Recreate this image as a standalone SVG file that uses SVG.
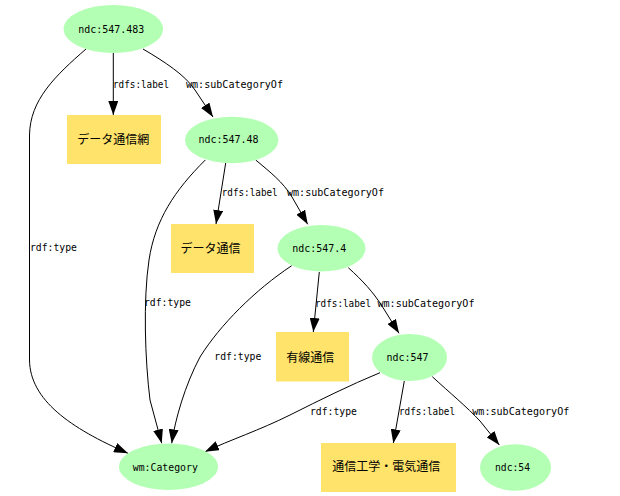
<svg xmlns="http://www.w3.org/2000/svg" width="620" height="496" viewBox="0 0 620 496">
<style>
.res ellipse{fill:#b3ffb3;stroke:none}
.lit rect{fill:#ffe36b;stroke:none}
.t{font-family:"DejaVu Sans Mono","Liberation Mono",monospace;font-size:11px;fill:#000}
.j{font-family:"Noto Sans CJK JP","Noto Sans",sans-serif;font-size:12px;fill:#000;text-anchor:middle}
.m{text-anchor:middle}
#edges path{fill:none;stroke:#000;stroke-width:1;marker-end:url(#ah)}
</style>
<defs>
<marker id="ah" viewBox="0 0 14 10" refX="14" refY="5" markerWidth="14" markerHeight="10" markerUnits="userSpaceOnUse" orient="auto">
<path d="M0,0 L14,5 L0,10 z" fill="#000"/>
</marker>
</defs>
<rect width="620" height="496" fill="#fff"/>
<g id="edges">
<path d="M113.3,53 L113.3,115"/>
<path d="M143,49 C165,62 185,75 195,90 C201,99 207,108 213,117"/>
<path d="M86,49 C55,76 30,100 29.5,135 L29.5,360 C30,400 70,428 128,453.3"/>
<path d="M225.7,163 L216,224"/>
<path d="M255.7,160 C270,172 283,182 292,197 L307.7,224.3"/>
<path d="M205.3,160 C175,190 155,220 149,260 C143,300 145,360 150,400 L161.7,443.3"/>
<path d="M319.3,272 L313.3,332"/>
<path d="M348.3,267.7 C363,281 373,292 382,306 L399,333.3"/>
<path d="M291.7,265.7 C255,290 220,325 200,357 C185,385 175,420 171.7,443.3"/>
<path d="M404.3,381 L393.3,443.3"/>
<path d="M432.3,376.7 C450,393 467,407 480,421 L499.3,445"/>
<path d="M380,372.7 C350,385 320,400 290,415 C260,430 230,440 205,451.7"/>
<g id="edge-labels">
<text class="t" x="113" y="87.5" textLength="56" lengthAdjust="spacingAndGlyphs">rdfs:label</text>
<text class="t" x="186" y="87.5" textLength="97" lengthAdjust="spacingAndGlyphs">wm:subCategoryOf</text>
<text class="t" x="30" y="251" textLength="47" lengthAdjust="spacingAndGlyphs">rdf:type</text>
<text class="t" x="221.7" y="196" textLength="56" lengthAdjust="spacingAndGlyphs">rdfs:label</text>
<text class="t" x="287" y="196" textLength="97" lengthAdjust="spacingAndGlyphs">wm:subCategoryOf</text>
<text class="t" x="144" y="306" textLength="47" lengthAdjust="spacingAndGlyphs">rdf:type</text>
<text class="t" x="315" y="306.7" textLength="56" lengthAdjust="spacingAndGlyphs">rdfs:label</text>
<text class="t" x="377.5" y="306.7" textLength="97" lengthAdjust="spacingAndGlyphs">wm:subCategoryOf</text>
<text class="t" x="214.3" y="360" textLength="47" lengthAdjust="spacingAndGlyphs">rdf:type</text>
<text class="t" x="399" y="415" textLength="56" lengthAdjust="spacingAndGlyphs">rdfs:label</text>
<text class="t" x="472.3" y="415" textLength="97" lengthAdjust="spacingAndGlyphs">wm:subCategoryOf</text>
<text class="t" x="310" y="415" textLength="47" lengthAdjust="spacingAndGlyphs">rdf:type</text>
</g>
</g>
<g id="n-ndc547483" class="res"><ellipse cx="113.3" cy="29" rx="49.7" ry="24"/><text class="t m" x="111.3" y="33.3" textLength="66" lengthAdjust="spacingAndGlyphs">ndc:547.483</text></g>
<g id="n-label1" class="lit"><rect x="67" y="115" width="94" height="49"/><text class="j" x="113.3" y="143.5">データ通信網</text></g>
<g id="n-ndc54748" class="res"><ellipse cx="231.7" cy="140" rx="46.7" ry="23.3"/><text class="t m" x="228.5" y="143.3" textLength="60" lengthAdjust="spacingAndGlyphs">ndc:547.48</text></g>
<g id="n-label2" class="lit"><rect x="171" y="224" width="83" height="49"/><text class="j" x="210.5" y="252.5">データ通信</text></g>
<g id="n-ndc5474" class="res"><ellipse cx="321.5" cy="248.3" rx="44" ry="23.3"/><text class="t m" x="319.2" y="252.3" textLength="54" lengthAdjust="spacingAndGlyphs">ndc:547.4</text></g>
<g id="n-label3" class="lit"><rect x="276" y="332" width="73" height="49.5"/><text class="j" x="310.3" y="361.5">有線通信</text></g>
<g id="n-ndc547" class="res"><ellipse cx="409.5" cy="357.5" rx="37.5" ry="23.5"/><text class="t m" x="407.5" y="361" textLength="42" lengthAdjust="spacingAndGlyphs">ndc:547</text></g>
<g id="n-label4" class="lit"><rect x="321" y="443" width="135" height="49"/><text class="j" x="386.3" y="470.5">通信工学・電気通信</text></g>
<g id="n-ndc54" class="res"><ellipse cx="515.5" cy="467.5" rx="35.5" ry="23.3"/><text class="t m" x="512.5" y="470.7" textLength="35" lengthAdjust="spacingAndGlyphs">ndc:54</text></g>
<g id="n-category" class="res"><ellipse cx="168.5" cy="466.7" rx="49.5" ry="23.3"/><text class="t m" x="165.3" y="470.7" textLength="65" lengthAdjust="spacingAndGlyphs">wm:Category</text></g>
</svg>
